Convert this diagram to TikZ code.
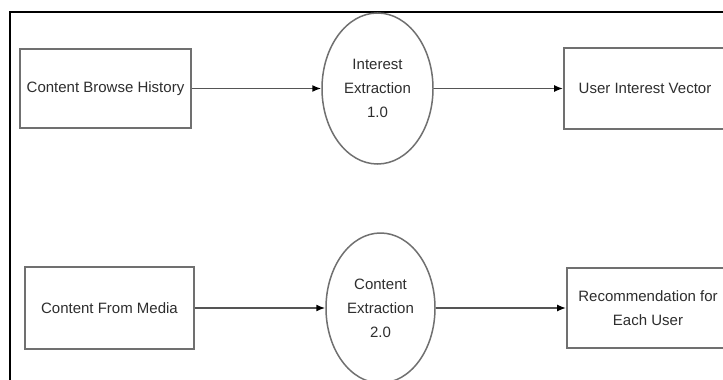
\documentclass[tikz,border=0pt]{standalone}
\usepackage{fontspec}
\setmainfont{Liberation Sans}
\usetikzlibrary{shapes.geometric,arrows.meta}
\definecolor{boxgray}{HTML}{707070}
\definecolor{txtgray}{HTML}{2E2E2E}
\definecolor{linegray}{HTML}{555555}
\begin{document}
\begin{tikzpicture}[x=1pt,y=-1pt,
  every node/.style={font=\fontsize{15}{24}\selectfont, text=txtgray, inner sep=0pt, align=center},
  store/.style={draw=boxgray, line width=1.8pt, rectangle},
  proc/.style={draw=boxgray, line width=1.5pt, ellipse},
  flow/.style={draw=linegray, line width=1.6pt, -{Latex[length=9pt,width=7pt,color=black]}}]
\useasboundingbox (0,0) rectangle (723,380);
\clip (0,0) rectangle (723,380);
\fill[white] (0,0) rectangle (723,380);
\draw[line width=1.8pt, black] (10,12) rectangle (760,420);
\node[store, minimum width=171pt, minimum height=79pt] (cbh) at (105.5,88.5) {Content Browse History};
\node[proc, minimum width=111pt, minimum height=151pt] (ie) at (377.5,88.5) {Interest\\Extraction\\1.0};
\node[store, minimum width=162pt, minimum height=81pt] (uiv) at (645,88.5) {User Interest Vector};
\node[store, minimum width=169pt, minimum height=82pt] (cfm) at (109.5,308) {Content From Media};
\node[proc, minimum width=109pt, minimum height=150pt] (ce) at (380.5,308) {Content\\Extraction\\2.0};
\node[store, minimum width=162pt, minimum height=80pt] (rec) at (648,308) {Recommendation for\\Each User};
\draw[flow] (cbh.east) -- (ie.west);
\draw[flow] (ie.east) -- (uiv.west);
\draw[flow] (cfm.east) -- (ce.west);
\draw[flow] (ce.east) -- (rec.west);
\end{tikzpicture}
\end{document}
